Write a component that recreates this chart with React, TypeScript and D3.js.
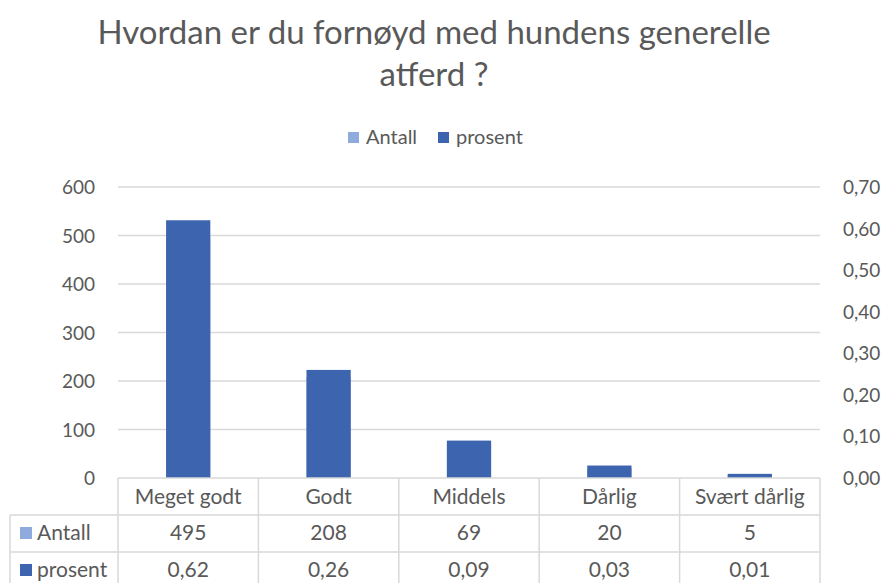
import React, { useEffect, useRef } from "react";
import * as d3 from "d3";

const categories = ["Meget godt", "Godt", "Middels", "Dårlig", "Svært dårlig"];
const antall = [495, 208, 69, 20, 5];
const prosent = [0.62, 0.26, 0.09, 0.03, 0.01];
const leftTicks = [0, 100, 200, 300, 400, 500, 600];
const rightTicks = [0, 0.1, 0.2, 0.3, 0.4, 0.5, 0.6, 0.7];

const width = 886;
const height = 583;
const plot = { left: 118, right: 820, top: 187, bottom: 478 };
const rows = [478, 515, 552, 590];
const tableLeft = 10;
const font = "Lato, 'Open Sans', sans-serif";
const textColor = "#595959";
const gridColor = "#d9d9d9";
const colors = { antall: "#8faadc", prosent: "#3d64ae" };

const fmt = (v: number) => v.toFixed(2).replace(".", ",");

export default function App() {
  const ref = useRef<SVGSVGElement>(null);

  useEffect(() => {
    const svg = d3.select(ref.current);
    svg.selectAll("*").remove();

    const x = d3.scaleBand().domain(categories).range([plot.left, plot.right]);
    const yL = d3.scaleLinear().domain([0, 600]).range([plot.bottom, plot.top]);
    const yR = d3.scaleLinear().domain([0, 0.7]).range([plot.bottom, plot.top]);
    const barW = x.bandwidth() * 0.315;

    // title
    const title = svg.append("text")
      .attr("text-anchor", "middle")
      .attr("font-family", font)
      .attr("font-size", 33)
      .attr("fill", textColor);
    title.append("tspan").attr("x", 434).attr("y", 44).text("Hvordan er du fornøyd med hundens generelle");
    title.append("tspan").attr("x", 434).attr("y", 86).text("atferd ?");

    // legend
    const legend = [
      { name: "Antall", color: colors.antall, x: 348 },
      { name: "prosent", color: colors.prosent, x: 438 },
    ];
    legend.forEach((l) => {
      svg.append("rect").attr("x", l.x).attr("y", 132).attr("width", 11).attr("height", 11).attr("fill", l.color);
      svg.append("text")
        .attr("x", l.x + 18).attr("y", 144)
        .attr("font-family", font).attr("font-size", 20).attr("fill", textColor)
        .text(l.name);
    });

    // gridlines
    svg.append("g")
      .selectAll("line")
      .data(leftTicks.slice(1))
      .join("line")
      .attr("x1", plot.left).attr("x2", plot.right)
      .attr("y1", (d) => yL(d)).attr("y2", (d) => yL(d))
      .attr("stroke", gridColor).attr("stroke-width", 1.5);

    // left axis labels
    svg.append("g")
      .selectAll("text")
      .data(leftTicks)
      .join("text")
      .attr("x", 95).attr("y", (d) => yL(d) + 7)
      .attr("text-anchor", "end")
      .attr("font-family", font).attr("font-size", 19).attr("fill", textColor)
      .text((d) => d);

    // right axis labels
    svg.append("g")
      .selectAll("text")
      .data(rightTicks)
      .join("text")
      .attr("x", 843).attr("y", (d) => yR(d) + 7)
      .attr("font-family", font).attr("font-size", 19).attr("fill", textColor)
      .text((d) => fmt(d));

    // bars (Antall on primary axis, prosent on secondary drawn on top)
    svg.append("g")
      .selectAll("rect")
      .data(antall)
      .join("rect")
      .attr("x", (_, i) => x(categories[i])! + (x.bandwidth() - barW) / 2)
      .attr("width", barW)
      .attr("y", (d) => yL(d))
      .attr("height", (d) => plot.bottom - yL(d))
      .attr("fill", colors.antall);

    svg.append("g")
      .selectAll("rect")
      .data(prosent)
      .join("rect")
      .attr("x", (_, i) => x(categories[i])! + (x.bandwidth() - barW) / 2)
      .attr("width", barW)
      .attr("y", (d) => yR(d))
      .attr("height", (d) => plot.bottom - yR(d))
      .attr("fill", colors.prosent);

    // data table
    const t = svg.append("g").attr("stroke", gridColor).attr("stroke-width", 1.5);
    t.append("line").attr("x1", plot.left).attr("x2", plot.right).attr("y1", rows[0]).attr("y2", rows[0]);
    rows.slice(1).forEach((r) => {
      t.append("line").attr("x1", tableLeft).attr("x2", plot.right).attr("y1", r).attr("y2", r);
    });
    t.append("line").attr("x1", tableLeft).attr("x2", tableLeft).attr("y1", rows[1]).attr("y2", height);
    categories.forEach((c) => {
      t.append("line").attr("x1", x(c)!).attr("x2", x(c)!).attr("y1", rows[0]).attr("y2", height);
    });
    t.append("line").attr("x1", plot.right).attr("x2", plot.right).attr("y1", rows[0]).attr("y2", height);

    const cellText = (cx: number, cy: number, s: string) =>
      svg.append("text")
        .attr("x", cx).attr("y", cy)
        .attr("text-anchor", "middle")
        .attr("font-family", font).attr("font-size", 21).attr("fill", textColor)
        .text(s);

    categories.forEach((c, i) => {
      const cx = x(c)! + x.bandwidth() / 2;
      cellText(cx, 504, c);
      cellText(cx, 540, String(antall[i]));
      cellText(cx, 577, fmt(prosent[i]));
    });

    const series = [
      { name: "Antall", color: colors.antall, y: 540 },
      { name: "prosent", color: colors.prosent, y: 577 },
    ];
    series.forEach((s) => {
      svg.append("rect").attr("x", 20).attr("y", s.y - 13).attr("width", 12).attr("height", 12).attr("fill", s.color);
      svg.append("text")
        .attr("x", 37).attr("y", s.y)
        .attr("font-family", font).attr("font-size", 21).attr("fill", textColor)
        .text(s.name);
    });
  }, []);

  return (
    <svg ref={ref} width={width} height={height} style={{ position: "absolute", left: 0, top: 0, background: "#fff" }} />
  );
}
